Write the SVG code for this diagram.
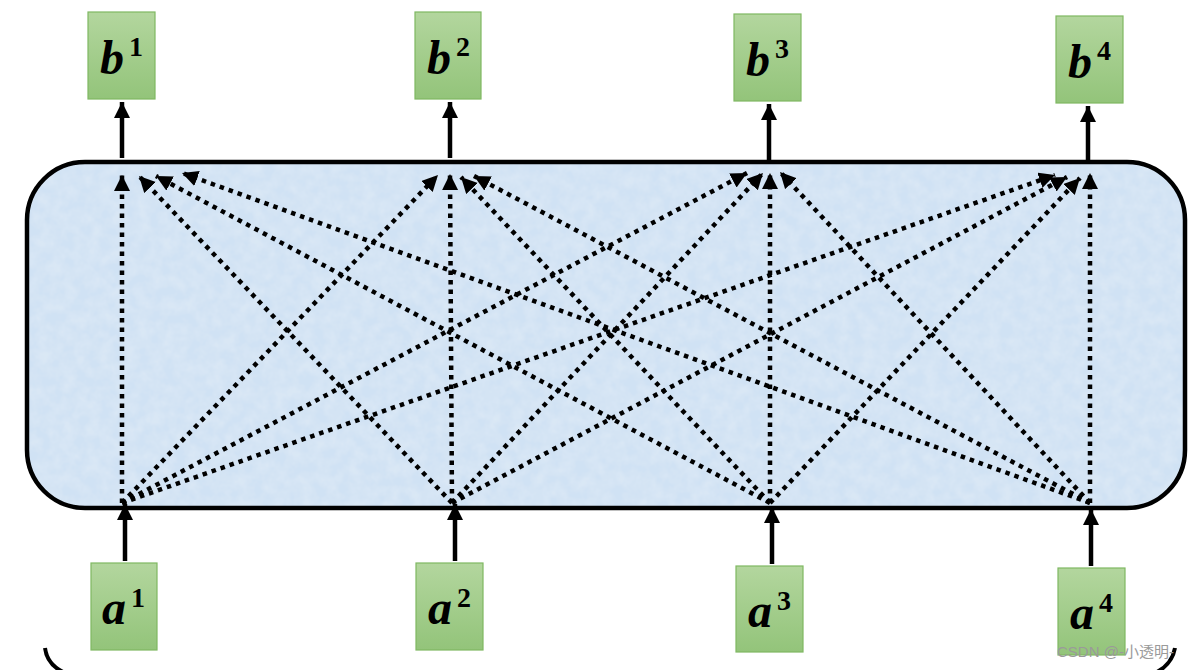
<svg xmlns="http://www.w3.org/2000/svg" width="1194" height="670" viewBox="0 0 1194 670">
<style>
.box{fill:url(#g);stroke:#7fb862;stroke-width:1.2}
.lab{font-family:"Liberation Serif",serif;font-weight:bold;font-style:italic;font-size:48px;fill:#000}
.sup{font-family:"Liberation Serif",serif;font-weight:bold;font-size:28px;fill:#000}
.solid{stroke:#000;stroke-width:4.5;fill:none;marker-end:url(#ah)}
.dot{stroke:#000;stroke-width:4.5;fill:none;stroke-dasharray:4.5 5;marker-end:url(#dh)}
</style>
<defs>
<linearGradient id="g" x1="0" y1="0" x2="0" y2="1">
<stop offset="0" stop-color="#b3d69e"/>
<stop offset="1" stop-color="#93c47a"/>
</linearGradient>
<filter id="tex" x="0" y="0" width="100%" height="100%">
<feTurbulence type="fractalNoise" baseFrequency="0.08" numOctaves="3" seed="3" result="n"/>
<feColorMatrix in="n" type="matrix" values="0 0 0 0 1  0 0 0 0 1  0 0 0 0 1  0 0 0 0.35 -0.08" result="w"/>
<feComposite in="w" in2="SourceGraphic" operator="atop"/>
</filter>
<marker id="ah" markerUnits="userSpaceOnUse" markerWidth="16" markerHeight="18" viewBox="0 0 16 18" refX="16" refY="8" orient="auto">
<path d="M0,0 L16,8 L0,16 Z" fill="#000"/>
</marker>
<marker id="dh" markerUnits="userSpaceOnUse" markerWidth="17" markerHeight="17" viewBox="0 0 17 17" refX="16" refY="8" orient="auto">
<path d="M0,0 L16,8 L0,16 Z" fill="#000"/>
</marker>
</defs>
<g id="container">
<rect x="27" y="162" width="1158" height="346" rx="58" ry="58" fill="#d0e2f4" stroke="none"/>
<rect x="27" y="162" width="1158" height="346" rx="58" ry="58" fill="#d0e2f4" filter="url(#tex)" opacity="0.9"/>
<rect x="27" y="162" width="1158" height="346" rx="58" ry="58" fill="none" stroke="#000" stroke-width="4.5"/>
</g>
<g id="connectors">
<line class="solid" x1="122" y1="158" x2="122" y2="102"/>
<line class="solid" x1="450" y1="158" x2="450" y2="102"/>
<line class="solid" x1="769" y1="160" x2="769" y2="104"/>
<line class="solid" x1="1088" y1="160" x2="1088" y2="106"/>
<line class="solid" x1="125" y1="561" x2="125" y2="504"/>
<line class="solid" x1="455" y1="561" x2="455" y2="504"/>
<line class="solid" x1="772" y1="564" x2="772" y2="507"/>
<line class="solid" x1="1091" y1="566" x2="1091" y2="509"/>
<line class="dot" x1="122" y1="503" x2="122" y2="175"/>
<line class="dot" x1="452" y1="503" x2="139" y2="176"/>
<line class="dot" x1="770" y1="503" x2="156" y2="176"/>
<line class="dot" x1="1090" y1="503" x2="182" y2="173"/>
<line class="dot" x1="122" y1="503" x2="438" y2="175"/>
<line class="dot" x1="452" y1="503" x2="450" y2="174"/>
<line class="dot" x1="770" y1="503" x2="461" y2="177"/>
<line class="dot" x1="1090" y1="503" x2="474" y2="176"/>
<line class="dot" x1="122" y1="503" x2="747" y2="173"/>
<line class="dot" x1="452" y1="503" x2="763" y2="173"/>
<line class="dot" x1="770" y1="503" x2="770" y2="173"/>
<line class="dot" x1="1090" y1="503" x2="780" y2="172"/>
<line class="dot" x1="122" y1="503" x2="1055" y2="175"/>
<line class="dot" x1="452" y1="503" x2="1067" y2="177"/>
<line class="dot" x1="770" y1="503" x2="1080" y2="178"/>
<line class="dot" x1="1090" y1="503" x2="1090" y2="173"/>
</g>
<g id="b1"><rect class="box" x="88" y="12" width="67" height="87"/><text class="lab" x="100" y="74">b</text><text class="sup" x="129" y="56">1</text></g>
<g id="b2"><rect class="box" x="415" y="12" width="66" height="87"/><text class="lab" x="427" y="74">b</text><text class="sup" x="456" y="56">2</text></g>
<g id="b3"><rect class="box" x="734" y="14" width="67" height="87"/><text class="lab" x="746" y="76">b</text><text class="sup" x="775" y="58">3</text></g>
<g id="b4"><rect class="box" x="1056" y="16" width="67" height="87"/><text class="lab" x="1068" y="78">b</text><text class="sup" x="1097" y="60">4</text></g>
<g id="a1"><rect class="box" x="91" y="563" width="66" height="87"/><text class="lab" x="102" y="624">a</text><text class="sup" x="131" y="607">1</text></g>
<g id="a2"><rect class="box" x="416" y="563" width="67" height="87"/><text class="lab" x="428" y="624">a</text><text class="sup" x="457" y="607">2</text></g>
<g id="a3"><rect class="box" x="736" y="566" width="67" height="86"/><text class="lab" x="748" y="627">a</text><text class="sup" x="777" y="610">3</text></g>
<g id="a4"><rect class="box" x="1058" y="568" width="67" height="87"/><text class="lab" x="1070" y="629">a</text><text class="sup" x="1099" y="612">4</text></g>
<path d="M45,648 Q47,664 63,672" fill="none" stroke="#000" stroke-width="4"/>
<path d="M1175,648 Q1172,664 1157,672" fill="none" stroke="#000" stroke-width="4"/>
<text x="1057" y="657" font-family="'Liberation Sans','Noto Sans CJK SC',sans-serif" font-size="15" fill="#9a9a9a">CSDN @-小透明-</text>
</svg>
